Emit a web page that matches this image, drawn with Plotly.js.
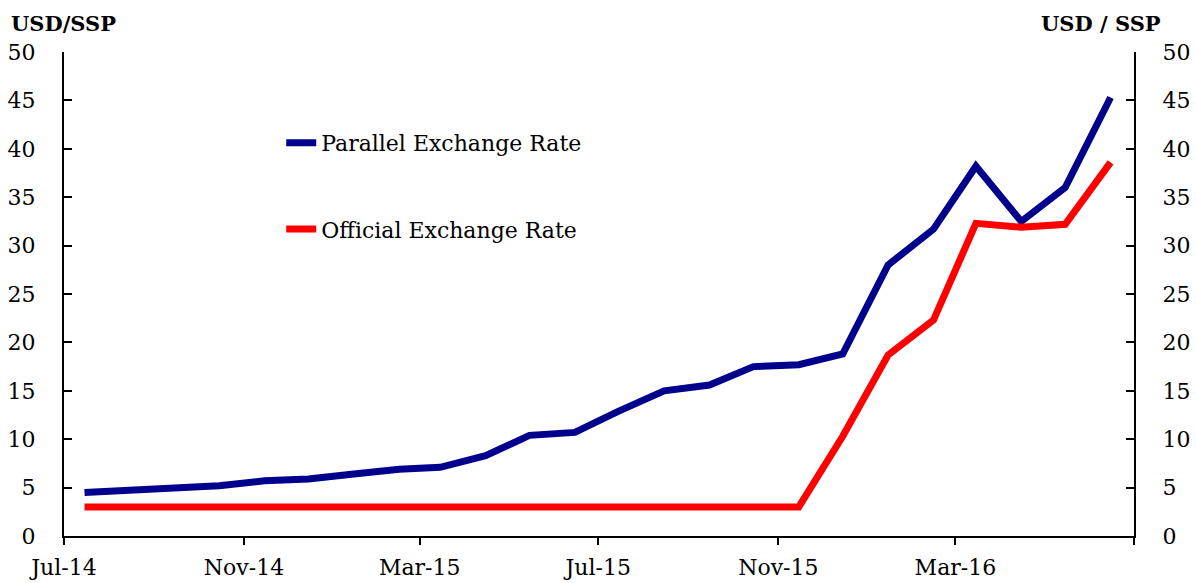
<!DOCTYPE html>
<html>
<head>
<meta charset="utf-8">
<script src="https://cdn.plot.ly/plotly-3.0.1.min.js"></script>
<style>html,body{margin:0;padding:0;background:#fff;}#chart{width:1196px;height:583px;}</style>
</head>
<body>
<div id="chart"></div>
<script>
// Months (mid-month observation dates)
const months = [
  '2014-07','2014-08','2014-09','2014-10','2014-11','2014-12',
  '2015-01','2015-02','2015-03','2015-04','2015-05','2015-06',
  '2015-07','2015-08','2015-09','2015-10','2015-11','2015-12',
  '2016-01','2016-02','2016-03','2016-04','2016-05','2016-06'
];
const parallelRate = [
  4.5, 4.7, 4.9, 5.2, 5.7, 5.9,
  6.4, 6.9, 7.1, 8.3, 10.4, 10.7,
  12.9, 15.0, 15.6, 17.5, 17.7, 18.8,
  28.0, 31.7, 38.2, 32.5, 36.0, 45.3
];
const officialRate = [
  3.0, 3.0, 3.0, 3.0, 3.0, 3.0,
  3.0, 3.0, 3.0, 3.0, 3.0, 3.0,
  3.0, 3.0, 3.0, 3.0, 3.0, 10.3,
  18.7, 22.3, 32.3, 31.9, 32.2, 38.6
];
const tickDates = ['2014-07-01','2014-11-01','2015-03-01','2015-07-01','2015-11-01','2016-03-01','2016-07-01'];
const tickLabels = ['Jul-14','Nov-14','Mar-15','Jul-15','Nov-15','Mar-16',''];

const xDates = months.map(m => m + '-15');
const FONT = 'DejaVu Serif';
const FS = 22;

const traces = [
  {x: xDates, y: parallelRate, type: 'scatter', mode: 'lines', name: 'Parallel Exchange Rate',
   line: {color: '#00008C', width: 7}, legend: 'legend', yaxis: 'y'},
  {x: xDates, y: officialRate, type: 'scatter', mode: 'lines', name: 'Official Exchange Rate',
   line: {color: '#FF0000', width: 7}, legend: 'legend2', yaxis: 'y2'}
];

const yCommon = {
  range: [0, 50], dtick: 5, tick0: 0, showgrid: false, zeroline: false, fixedrange: true,
  showline: true, linecolor: '#000', linewidth: 2,
  ticks: 'inside', ticklen: 8, tickwidth: 2, tickcolor: '#000',
  ticklabelstandoff: 22,
  tickfont: {family: FONT, size: FS, color: '#000'}
};

const layout = {
  width: 1196, height: 583,
  margin: {l: 64, r: 62, t: 52, b: 47},
  paper_bgcolor: '#fff', plot_bgcolor: '#fff',
  font: {family: FONT, color: '#000'},
  xaxis: {
    type: 'date', range: ['2014-07-01', '2016-07-01'],
    tickmode: 'array', tickvals: tickDates, ticktext: tickLabels,
    showgrid: false, zeroline: false, showline: true, linecolor: '#000', linewidth: 2,
    ticks: 'outside', ticklen: 7, tickwidth: 2, tickcolor: '#000',
    ticklabelstandoff: 4,
    tickfont: {family: FONT, size: FS, color: '#000'}
  },
  yaxis: Object.assign({}, yCommon, {side: 'left'}),
  yaxis2: Object.assign({}, yCommon, {side: 'right', overlaying: 'y', anchor: 'x'}),
  showlegend: true,
  legend: {x: 0.203, y: 0.812, xanchor: 'left', yanchor: 'middle', bgcolor: 'rgba(0,0,0,0)',
           font: {family: FONT, size: FS, color: '#000'}},
  legend2: {x: 0.203, y: 0.634, xanchor: 'left', yanchor: 'middle', bgcolor: 'rgba(0,0,0,0)',
           font: {family: FONT, size: FS, color: '#000'}},
  annotations: [
    {xref: 'paper', yref: 'paper', x: -0.051, y: 1.0, xanchor: 'left', yanchor: 'bottom', yshift: 14,
     text: '<b>USD/SSP</b>', showarrow: false, font: {family: FONT, size: 21, color: '#000'}},
    {xref: 'paper', yref: 'paper', x: 1.027, y: 1.0, xanchor: 'right', yanchor: 'bottom', yshift: 14,
     text: '<b>USD / SSP</b>', showarrow: false, font: {family: FONT, size: 21, color: '#000'}}
  ]
};

Plotly.newPlot('chart', traces, layout, {displayModeBar: false, staticPlot: true});
</script>
</body>
</html>
